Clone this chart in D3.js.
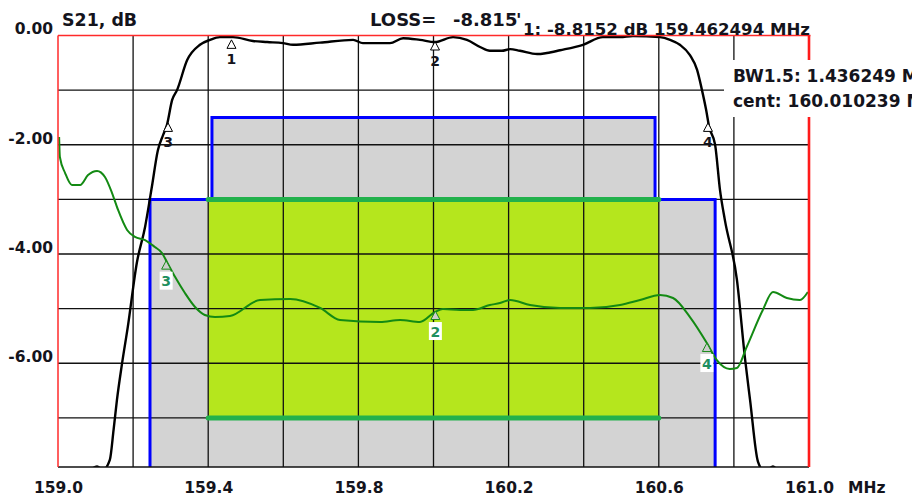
<!DOCTYPE html>
<html>
<head>
<meta charset="utf-8">
<script src="https://cdn.jsdelivr.net/npm/d3@7"></script>
<style>
html,body{margin:0;padding:0;background:#fff;}
svg{display:block;}
</style>
</head>
<body>
<svg id="chart" width="912" height="497"></svg>
<script>
// ---------- data ----------
const s21Freq = [159.072,159.104,159.120,159.138,159.148,159.157,159.170,159.186,159.210,159.232,159.250,159.266,159.280,159.290,159.304,159.317,159.344,159.378,159.405,159.431,159.466,159.519,159.557,159.599,159.626,159.698,159.786,159.812,159.884,159.919,159.964,160.004,160.052,160.089,160.124,160.150,160.182,160.204,160.230,160.276,160.302,160.337,160.398,160.451,160.497,160.531,160.603,160.630,160.656,160.683,160.702,160.715,160.726,160.734,160.750,160.763,160.776,160.808,160.830,160.843,160.864,160.883,160.904,160.923];
const s21Db = [-8.06,-7.89,-7.95,-7.77,-7.22,-6.67,-6.03,-5.33,-4.16,-3.50,-2.77,-2.10,-1.82,-1.64,-1.18,-1.00,-0.45,-0.17,-0.08,-0.03,-0.03,-0.10,-0.12,-0.14,-0.17,-0.13,-0.08,-0.14,-0.14,-0.05,-0.08,-0.12,-0.03,-0.08,-0.21,-0.28,-0.28,-0.25,-0.28,-0.34,-0.32,-0.27,-0.17,-0.03,-0.03,-0.01,-0.03,-0.08,-0.17,-0.36,-0.63,-1.00,-1.36,-1.67,-2.00,-2.83,-3.38,-4.47,-5.94,-6.67,-7.80,-7.99,-7.89,-8.04];

const rlFreq = [159.003,159.005,159.019,159.037,159.059,159.080,159.104,159.125,159.144,159.160,159.184,159.205,159.232,159.258,159.277,159.290,159.312,159.338,159.365,159.391,159.418,159.458,159.538,159.618,159.698,159.751,159.858,159.911,159.964,160.004,160.025,160.071,160.105,160.150,160.177,160.204,160.257,160.337,160.417,160.497,160.550,160.603,160.638,160.683,160.728,160.754,160.789,160.808,160.834,160.877,160.904,160.941,160.976,160.997];
const rlVal = [15.71,13.88,12.41,11.32,11.32,12.23,12.60,12.05,10.58,9.03,7.20,6.56,6.28,5.64,5.09,4.27,2.89,1.43,0.15,-0.58,-0.77,-0.68,0.79,0.88,0.06,-1.04,-1.22,-1.04,-1.22,-0.31,-0.03,-0.12,-0.12,0.33,0.51,0.79,0.33,0.06,0.06,0.33,0.79,1.25,0.97,-0.77,-3.15,-4.70,-5.53,-5.44,-3.51,-0.12,1.52,0.97,0.79,1.52];

// limit mask (blue outline, grey fill)
const maskFreq = [159.245,159.245,159.41,159.41,160.59,160.59,160.75,160.75];
const maskDb   = [-8.2,-3,-3,-1.5,-1.5,-3,-3,-8.2];
// spec window (green)
const specFreq = [159.4,160.6];
const specDb   = [-3,-7];

// markers
const s21MarkerId = ["1","2","3","4"];
const s21MarkerFreq = [159.462,160.004,159.293,160.731];
const s21MarkerDb = [-0.08,-0.11,-1.60,-1.60];
const rlMarkerId = ["2","3","4"];
const rlMarkerFreq = [160.005,159.288,160.728];
const rlMarkerVal = [-0.22,4.39,-3.15];

// ticks
const leftTicks = [0,-2,-4,-6];
const rightTicks = [25,15,5,-5,-15];
const bottomTicks = [159.0,159.4,159.8,160.2,160.6,161.0];
const gridFreq = [159.2,159.4,159.6,159.8,160.0,160.2,160.4,160.6,160.8];
const gridDb = [-1,-2,-3,-4,-5,-6,-7];

// texts
const titleText = "S21, dB";
const lossLabel = "LOSS=";
const lossValue = "-8.815";
const markerReadout = "1: -8.8152 dB 159.462494 MHz";
const bwText = "BW1.5: 1.436249 MHz";
const centText = "cent: 160.010239 MHz";
const unitText = "MHz";

// ---------- layout ----------
const svg = d3.select("#chart");
const L = 58, R = 809, T = 35.5, B = 467;
const x = d3.scaleLinear().domain([159, 161]).range([L, R]);
const y = d3.scaleLinear().domain([0, -8]).range([T, 472.5]);
const y2 = d3.scaleLinear().domain([25, -15]).range([T, 472.5]);
const FONT = "DejaVu Sans";
const TXT = "#14141c";
const GREEN_TXT = "#1e8c1e";

const defs = svg.append("defs");
defs.append("clipPath").attr("id","plotClip").append("rect")
  .attr("x",L).attr("y",T).attr("width",R-L).attr("height",B-T);
defs.append("clipPath").attr("id","rightClip").append("rect")
  .attr("x",R).attr("y",0).attr("width",912-R).attr("height",466);

const plot = svg.append("g").attr("clip-path","url(#plotClip)");

// grey mask fill
const maskPts = maskFreq.map((f,i)=>[x(f), y(maskDb[i])]);
plot.append("path").attr("d", d3.line()(maskPts) + "Z").attr("fill","#d3d3d3");

// green spec fill
plot.append("rect")
  .attr("x", x(specFreq[0])).attr("y", y(specDb[0]))
  .attr("width", x(specFreq[1]) - x(specFreq[0]))
  .attr("height", y(specDb[1]) - y(specDb[0]))
  .attr("fill","#b5e61d");

// grid
plot.selectAll("line.vg").data(gridFreq).join("line").attr("class","vg")
  .attr("x1",d=>x(d)).attr("x2",d=>x(d)).attr("y1",T).attr("y2",B)
  .attr("stroke","#111").attr("stroke-width",1.3);
plot.selectAll("line.hg").data(gridDb).join("line").attr("class","hg")
  .attr("y1",d=>y(d)).attr("y2",d=>y(d)).attr("x1",L).attr("x2",R)
  .attr("stroke","#111").attr("stroke-width",1.3);

// blue mask outline
plot.append("path").attr("d", d3.line()(maskPts)).attr("fill","none")
  .attr("stroke","#0000ff").attr("stroke-width",3);

// thick green spec lines
specDb.forEach(v=>{
  plot.append("line").attr("x1",x(specFreq[0])).attr("x2",x(specFreq[1]))
    .attr("y1",y(v)).attr("y2",y(v))
    .attr("stroke","#22b14c").attr("stroke-width",5).attr("stroke-linecap","round");
});

// curves
const lineS21 = d3.line().x(d=>x(d[0])).y(d=>y(d[1])).curve(d3.curveMonotoneX);
plot.append("path").attr("d", lineS21(s21Freq.map((f,i)=>[f,s21Db[i]])))
  .attr("fill","none").attr("stroke","#000").attr("stroke-width",2.4);
const lineRL = d3.line().x(d=>x(d[0])).y(d=>y2(d[1])).curve(d3.curveMonotoneX);
plot.append("path").attr("d", lineRL(rlFreq.map((f,i)=>[f,rlVal[i]])))
  .attr("fill","none").attr("stroke","#138a13").attr("stroke-width",2);

// markers
function tri(cx, cy){ return `M${cx},${cy} L${cx+4.5},${cy+8.5} L${cx-4.5},${cy+8.5} Z`; }
s21MarkerId.forEach((id,i)=>{
  const cx = x(s21MarkerFreq[i]), cy = y(s21MarkerDb[i]);
  svg.append("path").attr("d",tri(cx,cy)).attr("fill","#fff").attr("stroke","#000").attr("stroke-width",1);
  svg.append("text").attr("x",cx).attr("y",cy+24).attr("text-anchor","middle")
    .attr("font-family",FONT).attr("font-weight","bold").attr("font-size",14)
    .attr("fill",TXT).text(id);
});
rlMarkerId.forEach((id,i)=>{
  const cx = x(rlMarkerFreq[i]), cy = y2(rlMarkerVal[i]);
  svg.append("path").attr("d",tri(cx,cy)).attr("fill","#cdcdcd").attr("stroke","#1a8a1a").attr("stroke-width",1);
  svg.append("rect").attr("x",cx-6.5).attr("y",cy+11).attr("width",13).attr("height",18).attr("fill","#fff");
  svg.append("text").attr("x",cx).attr("y",cy+25.5).attr("text-anchor","middle")
    .attr("font-family",FONT).attr("font-weight","bold").attr("font-size",14)
    .attr("fill","#1f8f5f").text(id);
});

// borders
svg.append("line").attr("x1",L).attr("x2",R).attr("y1",B).attr("y2",B).attr("stroke","#111").attr("stroke-width",1.3);
svg.append("line").attr("x1",L).attr("x2",L).attr("y1",T).attr("y2",B).attr("stroke","#ff2a2a").attr("stroke-width",1.5);
svg.append("line").attr("x1",L).attr("x2",R+1.5).attr("y1",T).attr("y2",T).attr("stroke","#ff2a2a").attr("stroke-width",1.5);
svg.append("line").attr("x1",R).attr("x2",R).attr("y1",T).attr("y2",B).attr("stroke","#ff1a1a").attr("stroke-width",2.6);

// axes
function styleAxis(g, color){
  g.select(".domain").remove();
  g.attr("font-family",FONT).attr("font-weight","bold").attr("font-size",15.5);
  g.selectAll("text").attr("fill",color);
}
const gL = svg.append("g").attr("transform",`translate(${L},0)`)
  .call(d3.axisLeft(y).tickValues(leftTicks).tickFormat(d=>d.toFixed(2)).tickSize(0).tickPadding(5));
styleAxis(gL, TXT);
gL.selectAll("text").attr("dy","-0.1em");

const gR = svg.append("g").attr("transform",`translate(${R},0)`).attr("clip-path","url(#rightClip)")
  .call(d3.axisRight(y2).tickValues(rightTicks).tickFormat(d=>d.toFixed(1)).tickSize(0).tickPadding(14));
styleAxis(gR, GREEN_TXT);
gR.selectAll("text").attr("dy","-0.13em");

const gB = svg.append("g").attr("transform",`translate(0,${B})`)
  .call(d3.axisBottom(x).tickValues(bottomTicks).tickFormat(d=>d.toFixed(1)).tickSize(0).tickPadding(15));
styleAxis(gB, TXT);
svg.append("text").attr("x",848).attr("y",493.3)
  .attr("font-family",FONT).attr("font-weight","bold").attr("font-size",15.5).attr("fill",TXT).text(unitText);

// top texts
function txt(s, xx, yy, size, color){
  return svg.append("text").attr("x",xx).attr("y",yy).attr("font-family",FONT)
    .attr("font-weight","bold").attr("font-size",size).attr("fill",color||TXT).text(s);
}
txt(titleText, 62, 26, 17.4);
txt(lossLabel, 370, 26, 18);
txt(lossValue, 453, 26, 18);
txt("'", 516, 26, 18);
txt(markerReadout, 523, 35, 16.6);

// BW box
svg.append("rect").attr("x",724).attr("y",60).attr("width",188).attr("height",57).attr("fill","#fff");
txt(bwText, 733, 81.7, 17);
txt(centText, 733, 107, 17);
</script>
</body>
</html>
